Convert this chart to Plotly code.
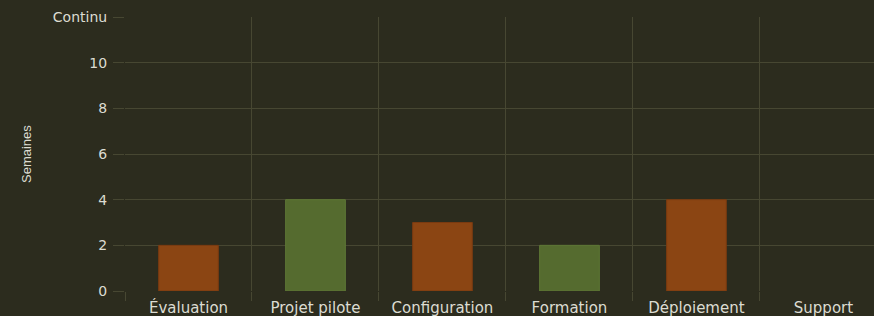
import plotly.graph_objects as go

categories = ["Évaluation", "Projet pilote", "Configuration", "Formation", "Déploiement", "Support"]
weeks = [2, 4, 3, 2, 4, None]
bar_colors = ["#8B4513", "#556B2F", "#8B4513", "#556B2F", "#8B4513", "#556B2F"]
border_colors = ["#7a3a10", "#5e7735", "#7a3a10", "#5e7735", "#7a3a10", "#5e7735"]
y_tickvals = [0, 2, 4, 6, 8, 10, 12]
y_ticktext = ["0", "2", "4", "6", "8", "10", "Continu"]

bg = "#2c2c1e"
grid = "#474732"
txt = "#dcdcd2"

fig = go.Figure(go.Bar(
    x=categories, y=weeks, width=0.47,
    marker=dict(color=bar_colors, line=dict(color=border_colors, width=1)),
    hoverinfo="x+y",
))

fig.update_layout(
    width=874, height=316,
    paper_bgcolor=bg, plot_bgcolor=bg,
    margin=dict(l=125, r=0, t=17, b=25, autoexpand=False),
    showlegend=False,
    font=dict(family="DejaVu Sans", size=15, color=txt),
    annotations=[dict(
        text="Semaines", xref="paper", yref="paper", x=-125 / 749 + 26 / 749, y=0.5,
        xanchor="center", yanchor="middle", textangle=-90, showarrow=False,
        font=dict(family="Liberation Sans Narrow, Liberation Sans", size=13, color=txt),
    )],
)
fig.update_xaxes(
    range=[-0.5, 5.398], automargin=False,
    tickson="boundaries", showgrid=True, gridcolor=grid, gridwidth=1,
    ticks="outside", ticklen=9, tickcolor=grid, ticklabelstandoff=6,
    showline=False, zeroline=False,
    tickfont=dict(family="DejaVu Sans", size=15, color=txt),
)
fig.update_yaxes(
    range=[0, 12], tickvals=y_tickvals, ticktext=y_ticktext, automargin=False,
    showgrid=True, gridcolor=grid, gridwidth=1,
    ticks="outside", ticklen=11, tickcolor=grid, ticklabelstandoff=3,
    showline=False, zeroline=False,
    tickfont=dict(family="DejaVu Sans", size=14, color=txt),
)

fig.write_html("out.html", config={"displayModeBar": False},
               post_script="document.body.style.margin='0';")
